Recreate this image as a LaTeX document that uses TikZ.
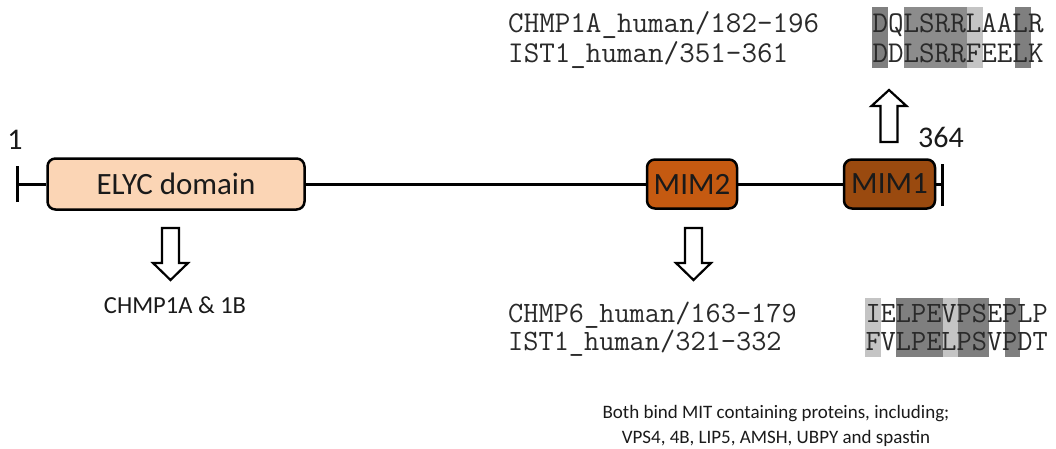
\documentclass[tikz,border=0pt]{standalone}
\usepackage{fontspec}
\setmainfont{Carlito}
\definecolor{elycc}{HTML}{FBD5B5}
\definecolor{mimtwo}{HTML}{C55A11}
\definecolor{mimone}{HTML}{9A4A0F}
\definecolor{shdark}{HTML}{7F7F7F}
\definecolor{shmid}{HTML}{8C8C8C}
\definecolor{shlight}{HTML}{C4C4C4}
\definecolor{txt}{HTML}{1A1A1A}
\definecolor{seqtxt}{HTML}{2A2A2A}
\begin{document}
\begin{tikzpicture}[x=1pt,y=-1pt,
  dom/.style={draw=black, line width=2.5pt, rounded corners=8pt, inner sep=0pt,
    font=\fontsize{31}{36}\selectfont, text=txt},
  bb/.style={line width=3pt},
  hollow/.style={draw=black, line width=2.2pt, fill=white, line join=miter},
  seqtop/.style={anchor=base west, inner sep=0pt, font=\ttfamily\fontsize{30.2}{34}\selectfont, text=seqtxt},
  seqbot/.style={anchor=base west, inner sep=0pt, font=\ttfamily\fontsize{29.5}{34}\selectfont, text=seqtxt},
  lbl/.style={inner sep=0pt, text=txt}]
\useasboundingbox (0,0) rectangle (1056,448);
% domains
\node[dom, fill=elycc, minimum width=257pt, minimum height=51pt] (elyc) at (176,184) {ELYC domain};
\node[dom, fill=mimtwo, minimum width=90pt, minimum height=49pt] (mim2) at (692,184) {MIM2};
\node[dom, fill=mimone, minimum width=91pt, minimum height=49pt] (mim1) at (889.5,184) {MIM1};
\coordinate (lt) at (17,184);
\coordinate (rt) at (942,184);
\draw[bb] (lt) -- (elyc);
\draw[bb] (elyc) -- (mim2);
\draw[bb] (mim2) -- (mim1);
\draw[bb] (mim1) -- (rt);
\draw[bb] ([yshift=-18pt]lt) -- ([yshift=18pt]lt);
\draw[bb] ([yshift=-22pt]rt) -- ([yshift=20pt]rt);
\node[lbl, font=\fontsize{30}{34}\selectfont] (one) at (15,140) {1};
\node[lbl, font=\fontsize{30}{34}\selectfont] (end) at (941,137) {364};
% arrows
\draw[hollow] (162,228) -- (179,228) -- (179,263) -- (188,263) -- (170.5,280) -- (153,263) -- (162,263) -- cycle;
\draw[hollow] (685,228) -- (702,228) -- (702,263) -- (711,263) -- (693.5,280) -- (676,263) -- (685,263) -- cycle;
\draw[hollow] (880.5,142) -- (897.5,142) -- (897.5,106) -- (906.5,106) -- (889,90) -- (871.5,106) -- (880.5,106) -- cycle;
% labels
\node[lbl, font=\fontsize{24.5}{28}\selectfont] (chmp) at (175,305) {CHMP1A \& 1B};
\node[lbl, font=\fontsize{19}{24.5}\selectfont, align=center] (both) at (776,426) {Both bind MIT containing proteins, including;\\VPS4, 4B, LIP5, AMSH, UBPY and spastin};
% top alignment (column width 15.85)
\fill[shdark] (872,7) rectangle ++(15.85,61);
\fill[shmid] (903.7,7) rectangle ++(63.4,61);
\fill[shlight] (967.1,7) rectangle ++(15.85,61);
\fill[shdark] (1014.65,7) rectangle ++(15.85,61);
\node[seqtop] (s1) at (872.3,32) {DQLSRRLAALR};
\node[seqtop] (s2) at (872.3,62) {DDLSRRFEELK};
\node[seqtop] (n1) at (508,32) {CHMP1A\_human/182-196};
\node[seqtop] (n2) at (508,62) {IST1\_human/351-361};
% bottom alignment (column width 15.5)
\fill[shlight] (865,297.5) rectangle ++(15.5,59);
\fill[shdark] (896,297.5) rectangle ++(46.5,59);
\fill[shlight] (942.5,297.5) rectangle ++(15.5,59);
\fill[shdark] (958,297.5) rectangle ++(31,59);
\fill[shdark] (1004.5,297.5) rectangle ++(15.5,59);
\node[seqbot] (s3) at (865.3,322) {IELPEVPSEPLP};
\node[seqbot] (s4) at (865.3,350) {FVLPELPSVPDT};
\node[seqbot] (n3) at (508,322) {CHMP6\_human/163-179};
\node[seqbot] (n4) at (508,350) {IST1\_human/321-332};
\end{tikzpicture}
\end{document}
